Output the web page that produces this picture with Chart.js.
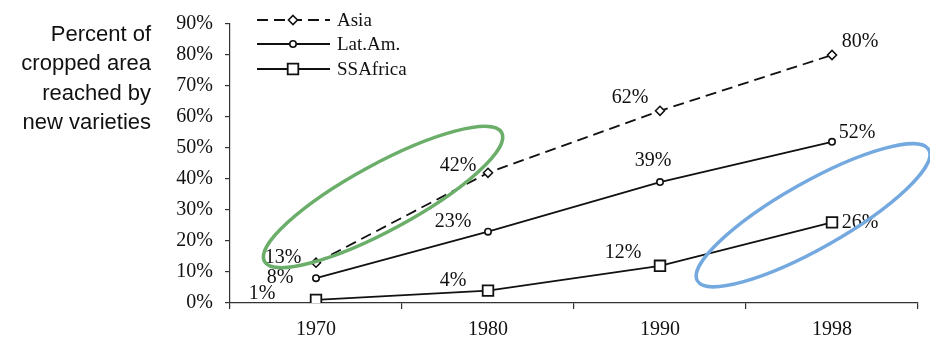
<!DOCTYPE html>
<html>
<head>
<meta charset="utf-8">
<style>
  html, body { margin: 0; padding: 0; background: #fff; }
  #wrap { width: 930px; height: 342px; }
</style>
<script src="https://cdn.jsdelivr.net/npm/chart.js@4/dist/chart.umd.min.js"></script>
</head>
<body>
<div id="wrap"><canvas id="c" width="930" height="342"></canvas></div>
<script>
// Share of cropped area reached by new crop varieties, by region
const years = ['1970', '1980', '1990', '1998'];
const asia = [13, 42, 62, 80];
const latAm = [8, 23, 39, 52];
const ssAfrica = [1, 4, 12, 26];
const seriesNames = ['Asia', 'Lat.Am.', 'SSAfrica'];
const yMin = 0, yMax = 90, yStep = 10;
const sideTitle = ['Percent of', 'cropped area', 'reached by', 'new varieties'];

// Highlight rings: centre in (category index, percent) plus pixel radii
const rings = [
  { cx: 0.39, cy: 34.2, rx: 135, ry: 33, angle: -28.5, color: '#6aae6a' },
  { cx: 2.89, cy: 28.3, rx: 133, ry: 33, angle: -29.5, color: '#74a9e0' }
];

// Value label placement relative to each point (pixels)
const labelOffsets = [
  [[-33, -5], [-30, -7], [-30, -13], [28, -13]],
  [[-36, 0], [-35, -10], [-7, -21], [25, -9]],
  [[-54, -6], [-35, -10], [-37, -13], [28, 0]]
];

const INK = '#111';
const SERIF = '"Liberation Serif", "DejaVu Serif", serif';

function drawMarker(ctx, style, x, y, r) {
  ctx.beginPath();
  if (style === 'rectRot') {
    ctx.moveTo(x, y - r); ctx.lineTo(x + r, y); ctx.lineTo(x, y + r); ctx.lineTo(x - r, y); ctx.closePath();
  } else if (style === 'rect') {
    const h = r * Math.SQRT1_2;
    ctx.rect(x - h, y - h, 2 * h, 2 * h);
  } else {
    ctx.arc(x, y, r, 0, Math.PI * 2);
  }
  ctx.fill(); ctx.stroke();
}

const annotationPlugin = {
  id: 'annotations',
  afterDatasetsDraw(chart) {
    const ctx = chart.ctx;
    const xs = chart.scales.x, ys = chart.scales.y;
    ctx.save();

    // value labels next to each point
    ctx.font = '20px ' + SERIF;
    ctx.fillStyle = INK;
    ctx.textAlign = 'center';
    ctx.textBaseline = 'middle';
    chart.data.datasets.forEach((ds, di) => {
      const meta = chart.getDatasetMeta(di);
      meta.data.forEach((pt, i) => {
        const off = labelOffsets[di][i];
        ctx.fillText(ds.data[i] + '%', pt.x + off[0], pt.y + off[1]);
      });
    });

    // legend in the upper left of the plot
    const legendY = [20, 44, 69];
    ctx.font = '19px ' + SERIF;
    ctx.textAlign = 'left';
    chart.data.datasets.forEach((ds, di) => {
      const y = legendY[di];
      ctx.strokeStyle = ds.borderColor;
      ctx.lineWidth = ds.borderWidth;
      ctx.setLineDash(ds.borderDash || []);
      ctx.lineDashOffset = 0;
      ctx.beginPath(); ctx.moveTo(257, y); ctx.lineTo(330, y); ctx.stroke();
      ctx.setLineDash([]);
      ctx.fillStyle = ds.pointBackgroundColor;
      ctx.lineWidth = ds.pointBorderWidth;
      drawMarker(ctx, ds.pointStyle, 293, y, ds.pointRadius);
      ctx.fillStyle = INK;
      ctx.fillText(ds.label, 337, y + 1);
    });

    // highlight rings
    rings.forEach(r => {
      const cx = xs.getPixelForValue(r.cx);
      const cy = ys.getPixelForValue(r.cy);
      ctx.beginPath();
      ctx.ellipse(cx, cy, r.rx, r.ry, r.angle * Math.PI / 180, 0, Math.PI * 2);
      ctx.strokeStyle = r.color;
      ctx.lineWidth = 3.5;
      ctx.stroke();
    });

    // side title
    ctx.font = '22px "Liberation Sans", Arial, sans-serif';
    ctx.fillStyle = INK;
    ctx.textAlign = 'right';
    ctx.textBaseline = 'alphabetic';
    sideTitle.forEach((line, i) => ctx.fillText(line, 151, 41 + i * 29.3));

    ctx.restore();
  }
};

new Chart(document.getElementById('c'), {
  type: 'line',
  data: {
    labels: years,
    datasets: [
      {
        label: seriesNames[0], data: asia,
        borderColor: INK, borderWidth: 1.8, borderDash: [11, 6],
        pointStyle: 'rectRot', pointRadius: 4.5, pointBorderWidth: 1.6,
        pointBorderColor: INK, pointBackgroundColor: '#fff', tension: 0
      },
      {
        label: seriesNames[1], data: latAm,
        borderColor: INK, borderWidth: 1.8,
        pointStyle: 'circle', pointRadius: 3.2, pointBorderWidth: 1.6,
        pointBorderColor: INK, pointBackgroundColor: '#fff', tension: 0
      },
      {
        label: seriesNames[2], data: ssAfrica,
        borderColor: INK, borderWidth: 1.8,
        pointStyle: 'rect', pointRadius: 7.5, pointBorderWidth: 1.8,
        pointBorderColor: INK, pointBackgroundColor: '#fff', tension: 0
      }
    ]
  },
  options: {
    responsive: false,
    animation: false,
    devicePixelRatio: 1,
    layout: { padding: { top: 20, right: 12, left: 0, bottom: 0 } },
    plugins: { legend: { display: false }, tooltip: { enabled: false } },
    scales: {
      x: {
        type: 'category',
        offset: true,
        grid: { offset: true, drawOnChartArea: false, drawTicks: true, tickLength: 6, color: '#333', lineWidth: 1.2 },
        border: { display: true, color: '#333', width: 1.2 },
        ticks: { color: INK, font: { family: SERIF, size: 20 }, padding: 9, maxRotation: 0 },
        afterFit(s) { s.height = 39; }
      },
      y: {
        min: yMin, max: yMax,
        grid: { drawOnChartArea: false, drawTicks: true, tickLength: 5, color: '#333', lineWidth: 1.2 },
        border: { display: true, color: '#333', width: 1.2 },
        ticks: {
          stepSize: yStep, color: INK, padding: 12,
          font: { family: SERIF, size: 20 },
          callback: v => v + '%'
        },
        afterFit(s) { s.width = 230; }
      }
    }
  },
  plugins: [annotationPlugin]
});
</script>
</body>
</html>
